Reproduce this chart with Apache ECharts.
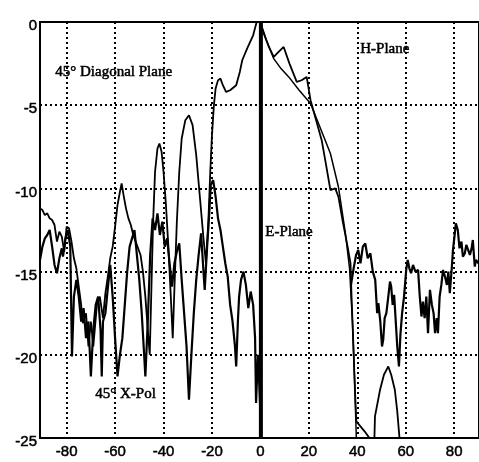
<!DOCTYPE html>
<html>
<head>
<meta charset="utf-8">
<script src="https://cdn.jsdelivr.net/npm/echarts@6/dist/echarts.min.js"></script>
<style>
html, body { margin: 0; padding: 0; background: #fff; }
#main { width: 479px; height: 462px; }
</style>
</head>
<body>
<div id="main"></div>
<script>
// angle (deg), relative level (dB)
var diagonal = [
    [-91, -11.2], [-90, -11.3], [-89, -11.6], [-88, -11.5], [-87, -11.8], [-86, -11.9], [-85, -12.2],
    [-84, -13.2], [-83, -12.6], [-82, -12.9], [-81, -13.8], [-80, -12.3], [-79, -12.4], [-78, -13.2],
    [-77, -14.2], [-76, -14.8], [-75, -15.9], [-74, -17], [-73.3, -18.1], [-72, -17.5], [-71, -19.5],
    [-70, -18], [-69, -19.5], [-68.4, -18.5], [-67.5, -17], [-66.3, -16.5], [-65, -17.8], [-64, -16.3],
    [-63, -15.3], [-62, -14.2], [-61, -13.5], [-60, -12.3], [-59, -11], [-58, -10.2], [-57.3, -9.7],
    [-56.5, -10.4], [-55.5, -11.2], [-54.5, -11.8], [-53.5, -12.2], [-52.5, -12.8], [-51.5, -13.2],
    [-50.5, -13.6], [-49.5, -14], [-48.5, -15], [-47.5, -16.5], [-46.5, -18.5], [-45.7, -20],
    [-45, -16], [-44.3, -12], [-43.5, -9], [-42.5, -7.6], [-41.7, -7.3], [-40.8, -7.8], [-40, -9],
    [-39, -11], [-38, -13.5], [-37, -16.5], [-36.2, -19], [-35.5, -16], [-34.5, -12], [-33.5, -9],
    [-32.5, -7], [-31, -5.9], [-29.5, -5.6], [-28, -6.2], [-26.5, -8], [-25, -10.5], [-23.5, -13],
    [-22.5, -14.5], [-21.5, -12], [-20.7, -9], [-20, -6.8], [-19.2, -5], [-18.5, -4], [-17.5, -3.5],
    [-16.5, -3.4], [-15.5, -3.8], [-14.2, -4.2], [-12.5, -4.1], [-10, -3.8], [-8.5, -3], [-7.5, -2.3],
    [-5.5, -1.6], [-3, -0.8], [-1, 0.3], [1.4, -0.7], [3.5, -1.5], [5.5, -2.1], [7.5, -1.8],
    [9.6, -1.5], [12, -2.5], [15, -3.6], [17, -3.5], [19.1, -3.3], [20.7, -4.7], [23, -5.9],
    [25.3, -7.1], [27, -8.5], [28.9, -10.1], [30.9, -10], [32.2, -10.5], [34, -12], [36, -13.5],
    [37.2, -14.5], [37.6, -16.4], [38.4, -19.5], [39, -22], [39.6, -24], [43, -24.6], [47, -25.4],
    [47.3, -23.7], [49.4, -22.1], [51, -21.2], [52.8, -20.7], [54, -21.2], [55.5, -22.1],
    [56.5, -23.4], [57.6, -25.3], [58.5, -27]
];

var hPlane = [
    [0, 0], [2.5, -1.1], [5.5, -2.2], [8.5, -2.8], [11.7, -3.3], [16, -4.1], [20.7, -4.9],
    [24, -6.1], [28.9, -7.9], [32.2, -9.9], [35.1, -12.7], [36.8, -14.8], [38, -18], [39, -22],
    [39.6, -25]
];

var ePlane = [[0.2, 0], [0.2, -25]];

var xPol = [
    [-91, -14.3], [-90, -13.5], [-89, -13], [-88, -12.8], [-87, -12.5], [-86, -13.5], [-85, -14.6],
    [-84, -15.1], [-83, -14.2], [-82, -13.6], [-81.5, -14.1], [-80.5, -13], [-79.5, -12.5],
    [-78.5, -13.5], [-77.8, -20.1], [-77, -16.5], [-76, -15.5], [-75, -16.5], [-74, -18],
    [-73, -17.2], [-72, -19], [-71, -18], [-70, -21.3], [-69, -18.5], [-68, -17], [-67, -16.5],
    [-66, -18.5], [-65.5, -21.3], [-65, -18], [-64, -17.5], [-63, -16], [-62, -14.6], [-61, -16.5],
    [-60, -19], [-59, -21.3], [-58, -20], [-57, -19], [-56, -17], [-55, -15], [-54, -13.5],
    [-53, -13], [-52, -12.5], [-51, -14], [-50, -15.5], [-49, -17.5], [-48, -20], [-47.5, -21.3],
    [-46.5, -18], [-45.5, -14], [-44.5, -11.8], [-43.5, -12.5], [-42.5, -11.5], [-41.5, -12.8],
    [-40.5, -12], [-39.5, -13.5], [-38.5, -13], [-37.5, -14.5], [-36.5, -15.9], [-35.5, -14.5],
    [-34.5, -13.8], [-33.5, -13.3], [-32.5, -15.5], [-31.5, -17.5], [-30.5, -19.5], [-29.5, -22.7],
    [-28.5, -20], [-27.5, -17.5], [-26.5, -15.5], [-25.5, -14], [-24.5, -12.7], [-23.5, -15],
    [-23, -16.1], [-22, -13.5], [-21.2, -11.7], [-20.5, -9.8], [-19.5, -9.5], [-18.5, -10.5],
    [-17.5, -11.8], [-16.5, -12.5], [-15.5, -13.5], [-14.5, -14.5], [-13.5, -15.3], [-12.5, -17],
    [-11.5, -18], [-10.5, -19.5], [-10, -20.7], [-9.3, -18], [-8.8, -16.5], [-8, -15.5], [-7, -15],
    [-6, -15.8], [-5, -17.2], [-4, -16.2], [-3, -17], [-2.2, -19], [-1.8, -22.9], [-1, -20],
    [-0.6, -21.3], [0, -23.5], [0.2, -24.7]
];

var farLobes = [
    [37.4, -15.8], [38.5, -14.8], [39.5, -14], [40.4, -13.7], [41.3, -14.5], [42.3, -13.5],
    [43.3, -13.3], [44.3, -14.2], [45.4, -13.9], [46.4, -15], [47.4, -15.5], [48.2, -17.5],
    [48.7, -16.9], [49.5, -18], [50.2, -19.5], [50.7, -19.1], [51.3, -17.8], [52, -17.5],
    [52.8, -16.5], [53.5, -15.6], [54, -15.9], [54.6, -17], [55.2, -16.4], [55.8, -17.8],
    [56.5, -19.5], [57.2, -20.7], [57.8, -18.8], [58.5, -17.5], [59.3, -16.5], [60.2, -14.9],
    [60.8, -14.3], [61.5, -14.8], [62.2, -15.1], [63, -14.6], [64, -15], [65.1, -14.9],
    [65.8, -16.5], [66.5, -17.7], [67.1, -16.8], [67.8, -17.8], [68.5, -16.5], [69.2, -18.7],
    [70, -16.1], [70.8, -17], [71.5, -17.5], [72.1, -18.7], [72.8, -17.8], [73.3, -18.7],
    [74, -16.5], [74.7, -15.8], [75.4, -14.9], [76.2, -15.3], [77, -15.8], [77.6, -15],
    [78.2, -16.3], [79, -14.8], [79.5, -13.7], [80.2, -12.8], [80.7, -12.1], [81.5, -12.5],
    [82.2, -13.6], [83, -13.2], [83.6, -14.1], [84.4, -13.9], [85, -13.4], [85.6, -13.3],
    [86.5, -14], [87.2, -13.6], [87.7, -13.1], [88.5, -14.7], [89, -14.3], [90, -14.5]
];

var myChart = echarts.init(document.getElementById('main'));

function curve(name, data, width) {
    return {
        name: name,
        type: 'line',
        data: data,
        symbol: 'none',
        lineStyle: { color: '#000', width: width },
        animation: false
    };
}

var serif = '15px "Liberation Serif", "Times New Roman", serif';
var sans = '"Liberation Sans", Arial, sans-serif';

function note(x, y, text) {
    return {
        type: 'text', left: x, top: y,
        style: { text: text, font: serif, fill: '#000', stroke: '#000', lineWidth: 0.5 }
    };
}

option = {
    backgroundColor: '#fff',
    grid: {
        left: 40,
        right: -2,
        top: 22,
        bottom: 24,
        show: true,
        borderColor: '#000',
        borderWidth: 2
    },
    xAxis: {
        type: 'value',
        min: -91,
        max: 90.25,
        minInterval: 20,
        maxInterval: 20,
        axisLine: { lineStyle: { color: '#000', width: 2 } },
        axisTick: { show: false },
        axisLabel: {
            showMinLabel: false,
            showMaxLabel: false,
            color: '#000',
            fontSize: 15,
            fontFamily: sans,
            textBorderColor: '#000',
            textBorderWidth: 0.5,
            margin: 6
        },
        splitLine: { lineStyle: { color: '#000', width: 2, type: [2, 3] } }
    },
    yAxis: {
        type: 'value',
        min: -25,
        max: 0,
        interval: 5,
        axisLine: { show: true, lineStyle: { color: '#000', width: 2 } },
        axisTick: { show: false },
        axisLabel: {
            margin: 3,
            formatter: function (v) { return '{t|' + v + '}'; },
            rich: {
                t: {
                    color: '#000',
                    fontSize: 15,
                    fontFamily: sans,
                    textBorderColor: '#000',
                    textBorderWidth: 0.5,
                    padding: [8, 0, 0, 0]
                }
            }
        },
        splitLine: { lineStyle: { color: '#000', width: 2, type: [2, 3] } }
    },
    graphic: [
        note(55, 64, '45° Diagonal Plane'),
        note(360, 41, 'H-Plane'),
        note(265, 224, 'E-Plane'),
        note(95, 386, '45° X-Pol')
    ],
    series: [
        curve('45° Diagonal Plane', diagonal, 1.8),
        curve('H-Plane', hPlane, 1.5),
        curve('45° X-Pol', xPol, 2.2),
        curve('sidelobes', farLobes, 2.2),
        curve('E-Plane', ePlane, 4)
    ]
};
myChart.setOption(option);
</script>
</body>
</html>
